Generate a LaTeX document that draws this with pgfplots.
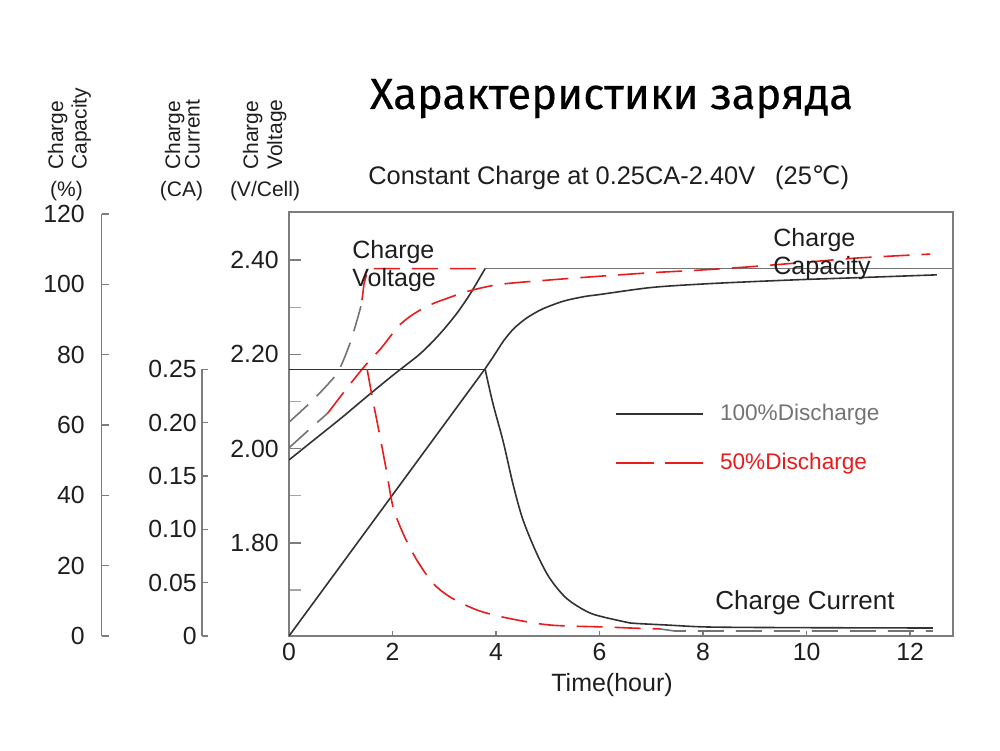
\documentclass[border=0pt]{standalone}
\usepackage{pgfplots}
\pgfplotsset{compat=1.18}
\usepackage{fontspec}
\setmainfont{Liberation Sans}
\newfontfamily\titlefont[FakeBold=0.4]{Fira Sans}
\newfontfamily\symfont{DejaVu Sans}
\definecolor{myred}{RGB}{232,28,28}
\definecolor{dk}{RGB}{50,50,50}
\definecolor{axgray}{RGB}{125,125,125}
\definecolor{dgray}{RGB}{115,115,115}
\definecolor{txt}{RGB}{30,30,30}

\begin{document}
\begin{tikzpicture}
\path[use as bounding box] (0,0) rectangle (500pt,375pt);
\pgfplotsset{
  base/.style={scale only axis, xmin=0, xmax=12.83, width=332pt, height=212pt,
    at={(144.5pt,57pt)}, anchor=south west},
  curve/.style={line width=0.8pt},
  dsh/.style={line width=0.8pt, dash pattern=on 13pt off 6pt},
  every axis/.append style={/pgf/number format/assume math mode=true,
    tick label style={font=\fontsize{12.4}{14}\selectfont, text=txt}},
  mylegend/.style={legend style={at={(axis description cs:0.491,#1)}, anchor=north west,
    draw=none, fill=none, inner sep=0pt, column sep=8pt,
    font=\fontsize{11.3}{13}\selectfont, nodes={inner sep=0pt}},
    legend cell align=left},
}
% ---------------- main voltage axis (box) ----------------
\begin{axis}[base, ymin=1.6025, ymax=2.502,
  axis line style={axgray, line width=0.6pt},
  xtick=\empty,
  ytick={1.8,2.0,2.2,2.4},
  minor ytick={1.7,1.9,2.1,2.3},
  ytick pos=left,
  tick align=inside,
  major tick length=6pt, minor tick length=6pt,
  major tick style={axgray, line width=0.6pt},
  minor tick style={black!35, line width=0.6pt},
  yticklabel style={inner sep=0pt, xshift=-5pt,
    /pgf/number format/fixed, /pgf/number format/fixed zerofill, /pgf/number format/precision=2},
  mylegend=0.547,
]
\addlegendimage{legend image code/.code={\draw[dk, line width=0.8pt] (0pt,0pt) -- (43.5pt,0pt);}}
\addlegendentry[text=dgray]{100\%Discharge}
% 100% discharge: charge voltage
\addplot[dk, curve, smooth, tension=0.4, forget plot] coordinates {
 (0,1.976) (0.5,2.020) (1.0,2.064) (1.5,2.110) (2.0,2.155) (2.5,2.198)
 (2.75,2.224) (3.0,2.254) (3.25,2.288) (3.5,2.328) (3.79,2.382)};
\addplot[dgray, curve, forget plot] coordinates {(3.79,2.382) (12.83,2.382)};
% 50% discharge: charge voltage
\addplot[dgray, dsh, smooth, tension=0.4, forget plot] coordinates {
 (0,2.056) (0.46,2.103) (0.93,2.160) (1.18,2.224) (1.37,2.294) (1.41,2.315)};
\addplot[myred, dsh, forget plot] coordinates {
 (1.41,2.315) (1.45,2.350) (1.53,2.382) (3.75,2.382)};
\end{axis}

% ---------------- capacity overlay (also draws x ticks) ----------------
\begin{axis}[base, ymin=0, ymax=120.57,
  hide y axis, axis x line*=bottom,
  x axis line style={-, axgray, line width=0.6pt},
  xtick={0,2,...,12},
  tick align=inside, major tick length=2.5pt,
  major tick style={axgray, line width=0.6pt},
  xticklabel style={inner sep=0pt, yshift=-3.5pt},
  mylegend=0.4316,
]
\addlegendimage{legend image code/.code={\draw[myred, line width=0.8pt, dash pattern=on 19pt off 5.5pt] (0pt,0pt) -- (43.5pt,0pt);}}
\addlegendentry[text=myred]{50\%Discharge}
% 100% discharge: charge capacity
\addplot[dk, curve, forget plot] coordinates {(0,0) (3.79,76.0)};
\addplot[dk, curve, smooth, tension=0.5, forget plot] coordinates {
 (3.79,76.0) (3.95,79.5) (4.15,84.0) (4.35,87.5) (4.6,90.5) (4.9,93.0)
 (5.3,95.2) (5.7,96.5) (6.0,97.1) (7.0,99.1) (8.0,100.1) (9.0,100.8)
 (10.0,101.4) (11.0,101.9) (12.52,102.7)};
% 50% discharge: charge capacity
\addplot[dgray, dsh, forget plot] coordinates {(0,53.5) (0.375,58.5) (0.75,63.4)};
\addplot[myred, dsh, smooth, tension=0.5, forget plot] coordinates {
 (0.75,63.4) (1.0,68.2) (1.25,72.9) (1.5,77.4) (1.76,81.5) (2.0,86.0)
 (2.14,88.5) (2.38,91.3) (2.7,94.0) (3.07,96.1) (3.5,98.2) (4.08,100.0)
 (5.0,101.2) (6.0,102.3) (7.0,103.3) (8.0,104.1) (9.0,105.1) (10.0,106.3)
 (11.0,107.5) (12.39,108.6)};
\end{axis}

% ---------------- current overlay ----------------
\begin{axis}[base, ymin=0, ymax=0.3975, hide axis]
% 100% discharge: charge current
\addplot[dk, curve] coordinates {(0,0.25) (3.79,0.25)};
\addplot[dk, curve, smooth, tension=0.5] coordinates {
 (3.79,0.25) (3.94,0.218) (4.14,0.182) (4.33,0.142) (4.52,0.109)
 (4.79,0.077) (5.04,0.054) (5.37,0.035) (5.82,0.0215) (6.34,0.0148)
 (6.59,0.0122) (7.3,0.0103) (8.14,0.0084) (10,0.0078) (12.44,0.0075)};
% 50% discharge: charge current
\addplot[myred, dsh, smooth, tension=0.5] coordinates {
 (1.51,0.25) (1.62,0.221) (1.76,0.1865) (1.89,0.153) (2.01,0.121)
 (2.20,0.0966) (2.47,0.0712) (2.78,0.0497) (3.11,0.0366) (3.63,0.0244)
 (4.21,0.0169) (5.04,0.0103) (6.14,0.0084) (6.59,0.0075) (7.17,0.0066)};
\addplot[dgray, dsh] coordinates {(7.17,0.0066) (7.45,0.0047) (12.44,0.0047)};
\end{axis}

% ---------------- capacity scale ----------------
\begin{axis}[scale only axis, width=1pt, height=211pt, at={(50.85pt,57pt)}, anchor=south west,
  xmin=0, xmax=1, ymin=0, ymax=120,
  hide x axis, axis y line*=left,
  y axis line style={-, axgray, line width=0.6pt},
  ytick={0,20,...,120},
  tick align=inside, major tick length=3.5pt,
  major tick style={axgray, line width=0.6pt},
  yticklabel style={inner sep=0pt, xshift=-8.3pt},
]
\end{axis}

% ---------------- current scale ----------------
\begin{axis}[scale only axis, width=1pt, height=133.35pt, at={(101pt,57pt)}, anchor=south west,
  xmin=0, xmax=1, ymin=0, ymax=0.25,
  hide x axis, axis y line*=left,
  y axis line style={-, axgray, line width=0.6pt},
  ytick={0,0.05,0.10,0.15,0.20,0.25},
  yticklabels={0,0.05,0.10,0.15,0.20,0.25},
  tick align=inside, major tick length=3pt,
  major tick style={axgray, line width=0.6pt},
  yticklabel style={inner sep=0pt, xshift=-2.5pt},
]
\end{axis}

% ---------------- texts ----------------
\node[anchor=base, inner sep=0pt, text=black]
  at (305.75pt,320.5pt) {\resizebox{241.5pt}{!}{\titlefont\fontsize{19.6}{22}\selectfont Характеристики заряда}};
\node[anchor=base west, inner sep=0pt, text=txt, font=\fontsize{12.7}{15}\selectfont]
  at (184pt,282.5pt) {Constant Charge at 0.25CA-2.40V\hspace{10pt}(25{\symfont ℃})};

\begin{scope}[every node/.style={inner sep=0pt, text=txt, font=\fontsize{10.5}{12}\selectfont}]
\node[rotate=90, anchor=base west] at (31.5pt,290pt) {Charge};
\node[rotate=90, anchor=base west] at (43.35pt,290pt) {Capacity};
\node[rotate=90, anchor=base west] at (90pt,290pt) {Charge};
\node[rotate=90, anchor=base west] at (99.85pt,290pt) {Current};
\node[rotate=90, anchor=base west] at (129pt,290pt) {Charge};
\node[rotate=90, anchor=base west] at (141pt,290pt) {Voltage};
\node[anchor=base] at (33.25pt,276.5pt) {(\%)};
\node[anchor=base] at (90.75pt,276.5pt) {(CA)};
\node[anchor=base] at (132.5pt,276.5pt) {(V/Cell)};
\end{scope}

\begin{scope}[every node/.style={inner sep=0pt, text=txt, font=\fontsize{12.5}{14}\selectfont}]
\node[anchor=base] at (306pt,29.5pt) {Time(hour)};
\node[anchor=base west] at (176pt,245.5pt) {Charge};
\node[anchor=base west] at (176pt,231.5pt) {Voltage};
\node[anchor=base west] at (386.5pt,251.5pt) {Charge};
\node[anchor=base west] at (386.5pt,237.5pt) {Capacity};
\node[anchor=base west, font=\fontsize{13}{15}\selectfont] at (357.5pt,70.5pt) {Charge Current};
\end{scope}
\end{tikzpicture}
\end{document}
